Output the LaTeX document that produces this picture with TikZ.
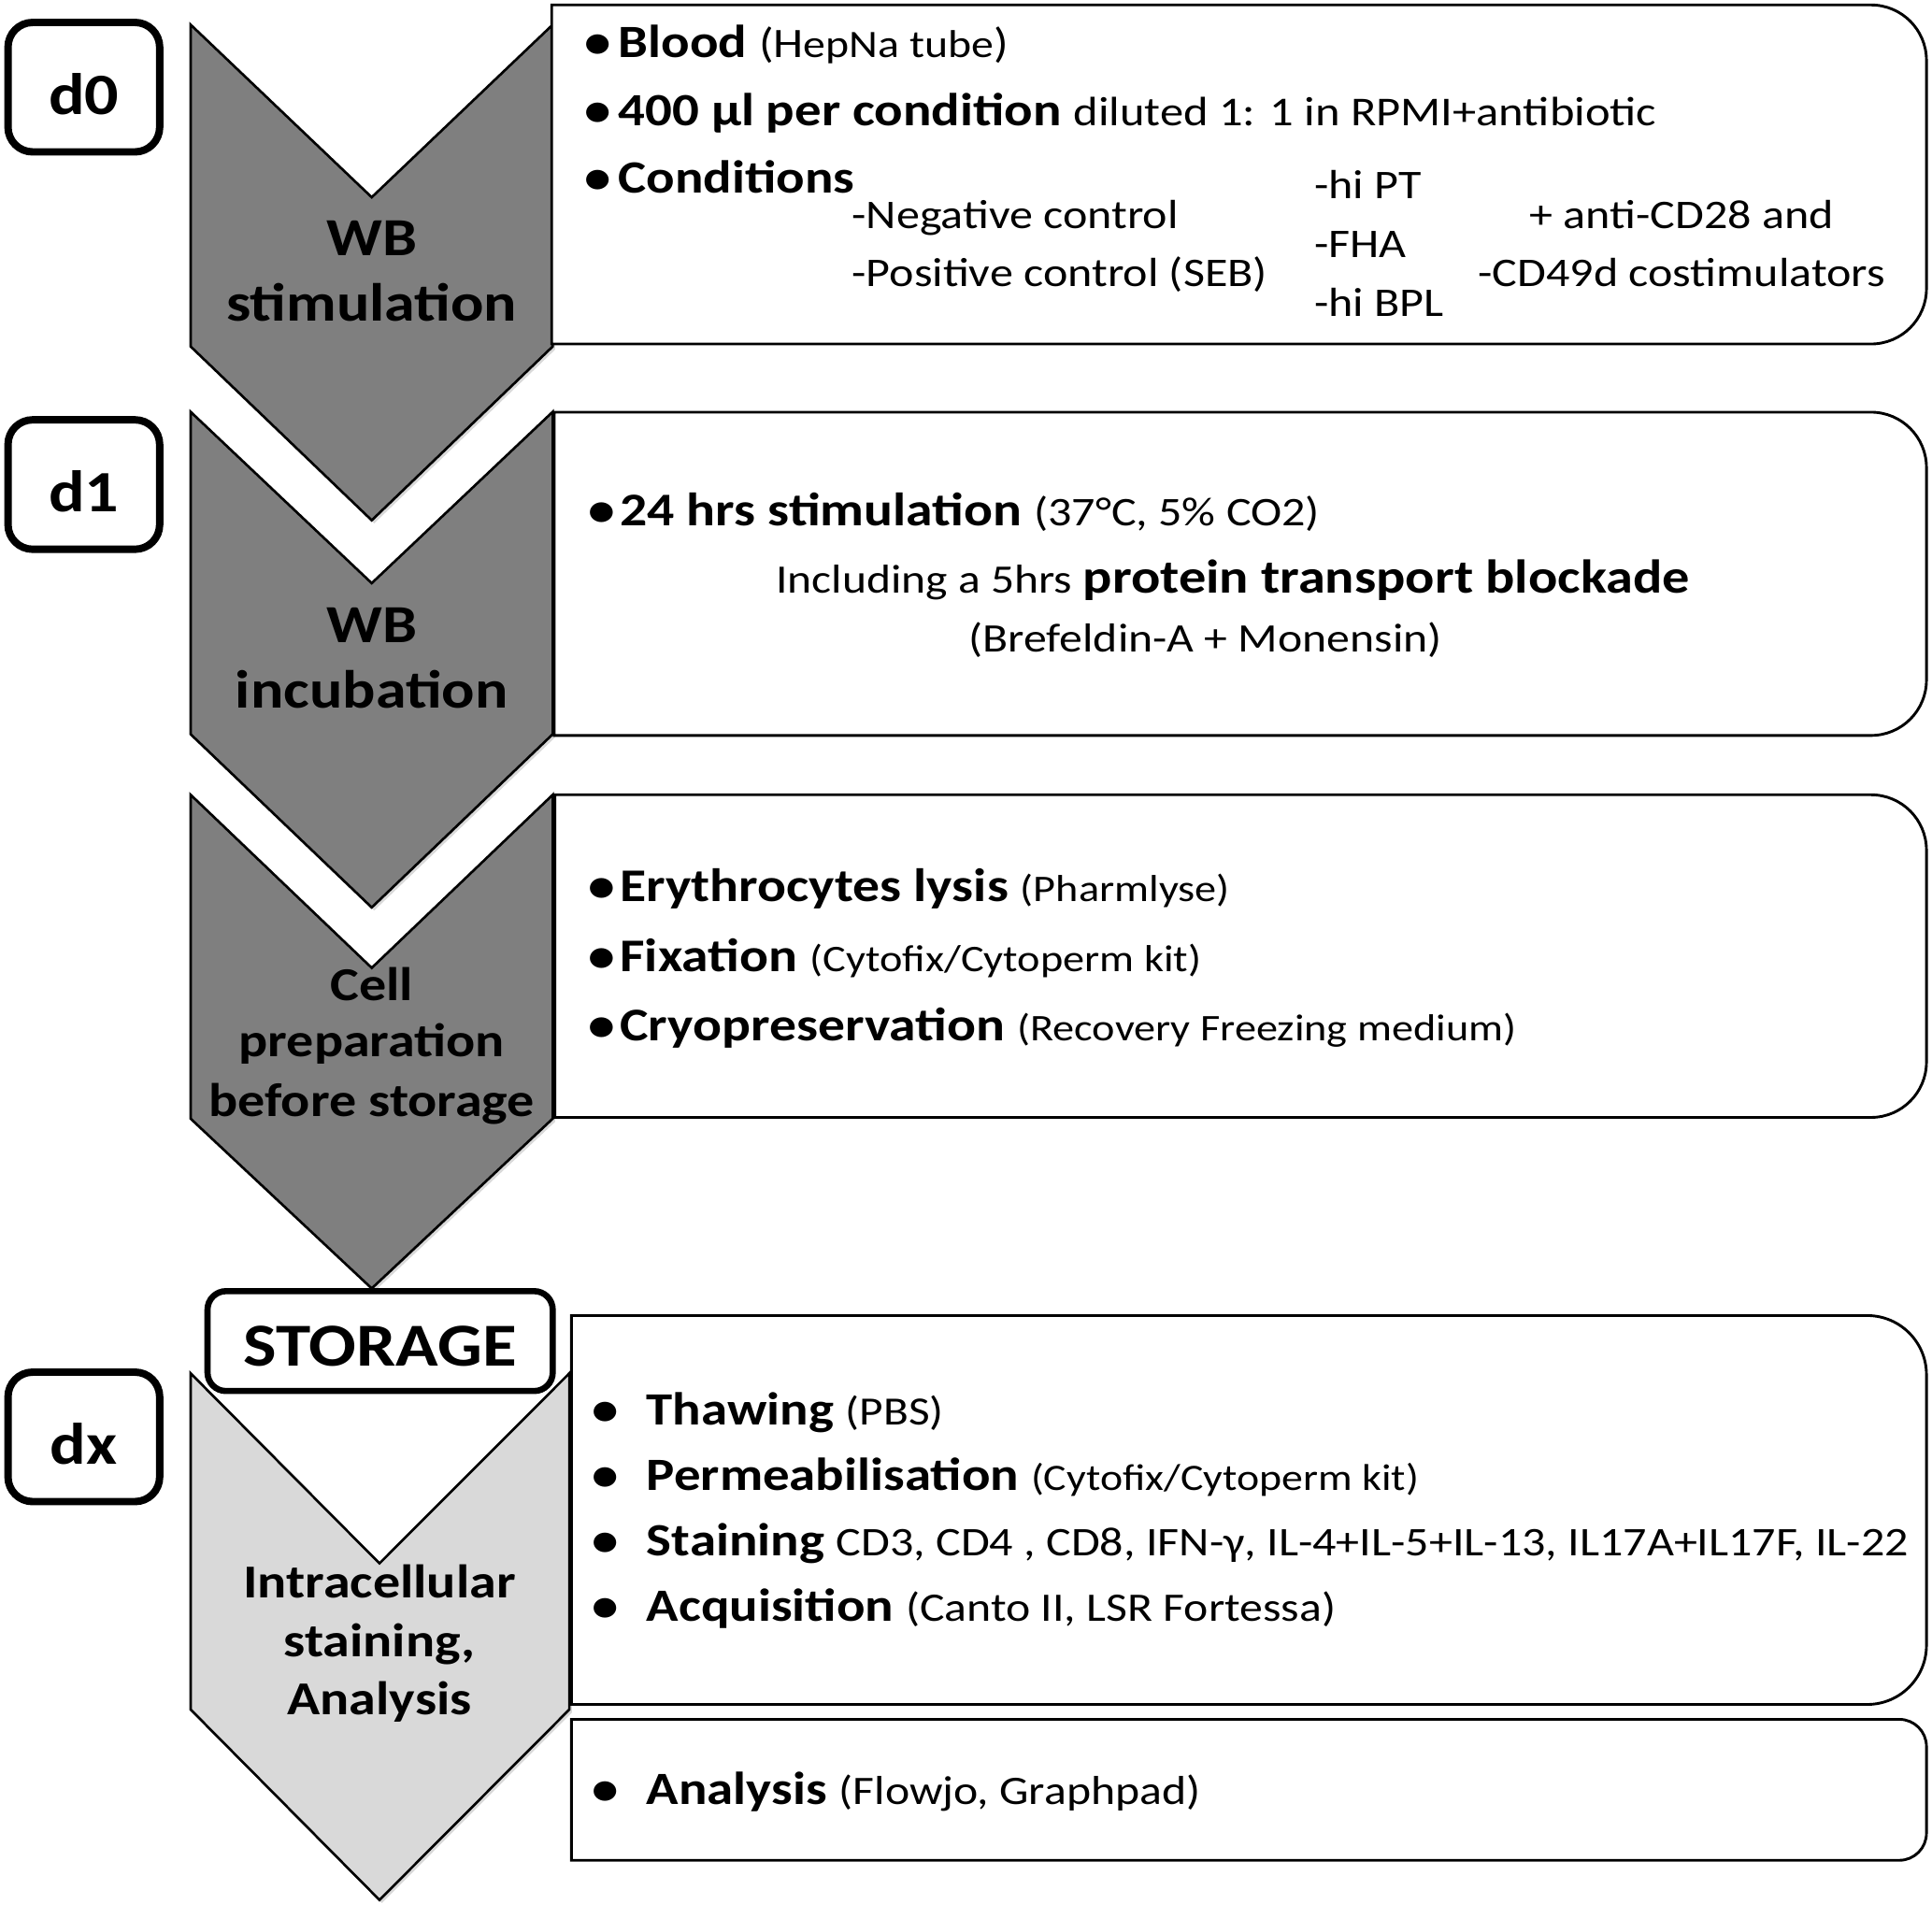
\documentclass[tikz,border=0pt]{standalone}
\usepackage{fontspec}
\setmainfont{Carlito}[FakeStretch=1.15]
\usetikzlibrary{shadows}
\definecolor{chevdark}{RGB}{127,127,127}
\definecolor{chevlight}{RGB}{217,217,217}
\newcommand\setfs[1]{\fontsize{#1}{#1}\selectfont}
\newcommand\bulbox[1]{\makebox[#1][l]{•}}
\begin{document}
\begin{tikzpicture}[x=1pt,y=-1pt,
  chevd/.style={draw=black, line width=2pt, line join=miter, fill=chevdark,
    drop shadow={shadow xshift=2pt, shadow yshift=-2.5pt, opacity=0.3}},
  chevl/.style={draw=black, line width=2pt, line join=miter, fill=chevlight,
    drop shadow={shadow xshift=2pt, shadow yshift=-2.5pt, opacity=0.3}},
  infobox/.style={draw=black, line width=2.2pt, fill=white},
  daybox/.style={draw=black, line width=6pt, rounded corners=20pt, fill=white,
    minimum width=123pt, minimum height=105pt, inner sep=0pt,
    text height=44pt, text depth=0pt, font=\bfseries\setfs{47.5}},
  storebox/.style={draw=black, line width=5pt, rounded corners=15pt, fill=white,
    minimum width=280pt, minimum height=81pt, inner sep=0pt,
    text height=40.6pt, text depth=0pt, font=\bfseries\setfs{49.5}},
  txt/.style={inner sep=0pt, outer sep=0pt, text=black},
  cbig/.style={txt, anchor=base, font=\bfseries\setfs{43.5}},
  csmall/.style={txt, anchor=base, font=\bfseries\setfs{38.3}}
]
\useasboundingbox (0,0) rectangle (1567,1554.9);

% chevrons
\draw[chevd] (154.6,20) -- (301.5,160) -- (448.3,20) -- (448.3,281) -- (301.5,422) -- (154.6,281) -- cycle;
\draw[chevd] (154.6,334) -- (301.5,473) -- (448.3,334) -- (448.3,595.5) -- (301.5,736) -- (154.6,595.5) -- cycle;
\draw[chevd] (154.6,644.6) -- (301.5,785) -- (448.3,644.6) -- (448.3,907.3) -- (301.5,1045) -- (154.6,907.3) -- cycle;
\draw[chevl] (154.6,1113.8) -- (307.8,1268) -- (461.8,1113.8) -- (461.8,1386.5) -- (307.8,1541) -- (154.6,1386.5) -- cycle;

% information boxes
\draw[infobox] (447.5,279) -- (447.5,4) -- (1000,4) [rounded corners=45pt] -- (1562.5,4) -- (1562.5,279) -- (1000,279) [sharp corners] -- cycle;
\draw[infobox] (449.5,596.5) -- (449.5,334.3) -- (1000,334.3) [rounded corners=45pt] -- (1562.5,334.3) -- (1562.5,596.5) -- (1000,596.5) [sharp corners] -- cycle;
\draw[infobox] (450,906.3) -- (450,644.6) -- (1000,644.6) [rounded corners=45pt] -- (1562.5,644.6) -- (1562.5,906.3) -- (1000,906.3) [sharp corners] -- cycle;
\draw[infobox] (463.5,1382.4) -- (463.5,1067) -- (1000,1067) [rounded corners=48pt] -- (1562.5,1067) -- (1562.5,1382.4) -- (1000,1382.4) [sharp corners] -- cycle;
\draw[infobox] (463.5,1508.8) -- (463.5,1394.5) -- (1000,1394.5) [rounded corners=22pt] -- (1562.5,1394.5) -- (1562.5,1508.8) -- (1000,1508.8) [sharp corners] -- cycle;

% storage and day boxes
\node[storebox] (storage) at (308.3,1087.7) {STORAGE};
\node[daybox] (d0) at (68,70.7) {d0};
\node[daybox] (d1) at (68,393) {d1};
\node[daybox] (dx) at (68,1165.4) {dx};

% chevron labels
\node[cbig] (c1a) at (301.5,207.5) {WB};
\node[cbig] (c1b) at (301.5,260.6) {stimulation};
\node[cbig] (c2a) at (301.5,521) {WB};
\node[cbig] (c2b) at (301.5,574.4) {incubation};
\node[csmall] (c3a) at (301.5,811.5) {Cell};
\node[csmall] (c3b) at (301.5,857) {preparation};
\node[csmall] (c3c) at (301.5,905.3) {before storage};
\node[csmall] (c4a) at (307.8,1295.6) {Intracellular};
\node[csmall] (c4b) at (307.8,1344) {staining,};
\node[csmall] (c4c) at (307.8,1391) {Analysis};

% box 1
\node[txt, anchor=base west] (b1a) at (474,46.8) {\bfseries\setfs{37.5}\bulbox{27.6pt}Blood \mdseries\setfs{34}(H\setfs{31.5}epNa tube\setfs{34})};
\node[txt, anchor=base west] (b1b) at (474,102.3) {\bfseries\setfs{37.5}\bulbox{27.6pt}400 µl per condition \mdseries\setfs{33.3}diluted 1: 1 in RPMI+antibiotic};
\node[txt, anchor=base west] (b1c) at (474,156.6) {\bfseries\setfs{37.5}\bulbox{27.6pt}Conditions};
\node[txt, anchor=base west, font=\setfs{33}] (b1d) at (691,185.4) {-Negative control};
\node[txt, anchor=base west, font=\setfs{33}] (b1e) at (691,232.5) {-Positive control (SEB)};
\node[txt, anchor=base west, font=\setfs{33}] (b1f) at (1066,161.4) {-hi PT};
\node[txt, anchor=base west, font=\setfs{33}] (b1g) at (1066,209) {-FHA};
\node[txt, anchor=base west, font=\setfs{33}] (b1h) at (1066,256.5) {-hi BPL};
\node[txt, anchor=base, font=\setfs{33}] (b1i) at (1364,185.4) {+ anti-CD28 and};
\node[txt, anchor=base, font=\setfs{33}] (b1j) at (1364,232.5) {-CD49d costimulators};

% box 2
\node[txt, anchor=base west] (b2a) at (477,426.5) {\bfseries\setfs{38}\bulbox{26pt}24 hrs stimulation \mdseries\setfs{33}(37°C, 5\% CO2)};
\node[txt, anchor=base west] (b2b) at (629.5,480.7) {\setfs{32.7}Including a 5hrs \bfseries\setfs{38.5}protein transport blockade};
\node[txt, anchor=base west, font=\setfs{32.8}] (b2c) at (785.8,528.7) {(Brefeldin-A + Monensin)};

% box 3
\node[txt, anchor=base west] (b3a) at (477,731) {\bfseries\setfs{38}\bulbox{26pt}Erythrocytes lysis \mdseries\setfs{30.5}(Pharmlyse)};
\node[txt, anchor=base west] (b3b) at (477,787.7) {\bfseries\setfs{38}\bulbox{26pt}Fixation \mdseries\setfs{30.5}(Cytofix/Cytoperm kit)};
\node[txt, anchor=base west] (b3c) at (477,843.8) {\bfseries\setfs{38}\bulbox{26pt}Cryopreservation \mdseries\setfs{30.5}(Recovery Freezing medium)};

% box 4
\node[txt, anchor=base west] (b4a) at (480,1156) {\bfseries\setfs{37.5}\bulbox{44.5pt}Thawing \mdseries\setfs{32.5}(PBS)};
\node[txt, anchor=base west] (b4b) at (480,1209) {\bfseries\setfs{37.5}\bulbox{44.5pt}Permeabilisation \mdseries\setfs{30.2}(Cytofix/Cytoperm kit)};
\node[txt, anchor=base west] (b4c) at (480,1262) {\bfseries\setfs{37.5}\bulbox{44.5pt}Staining \mdseries\setfs{33}CD3, CD4 , CD8, IFN-γ, IL-4+IL-5+IL-13, IL17A+IL17F, IL-22};
\node[txt, anchor=base west] (b4d) at (480,1315) {\bfseries\setfs{37.5}\bulbox{44.5pt}Acquisition \mdseries\setfs{32.8}(Canto II, LSR Fortessa)};

% box 5
\node[txt, anchor=base west] (b5a) at (480,1463.6) {\bfseries\setfs{37.5}\bulbox{44.5pt}Analysis \mdseries\setfs{32.8}(Flowjo, Graphpad)};
\end{tikzpicture}
\end{document}
